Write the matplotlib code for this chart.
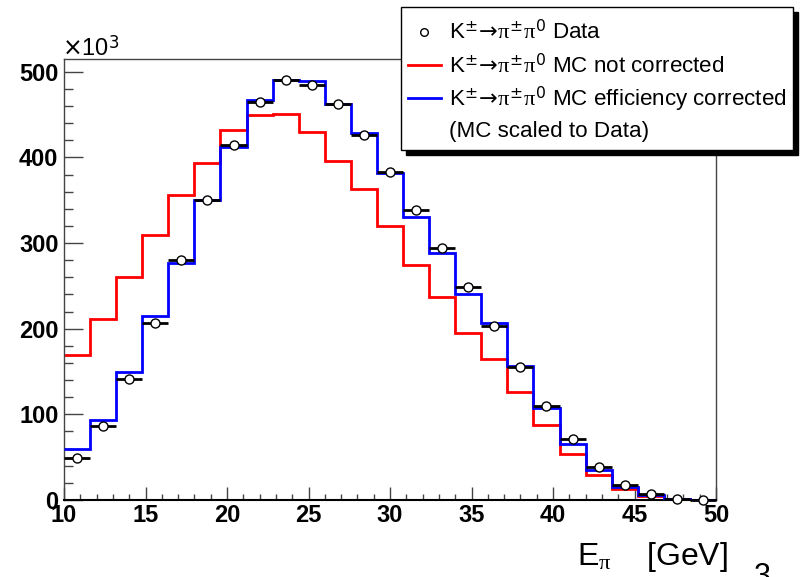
import numpy as np
import matplotlib
matplotlib.use("Agg")
import matplotlib.pyplot as plt
from matplotlib.patches import Rectangle
from matplotlib.lines import Line2D

plt.rcParams['font.family'] = ['Liberation Sans', 'DejaVu Sans']
plt.rcParams['mathtext.fontset'] = 'custom'
plt.rcParams['mathtext.rm'] = 'DejaVu Sans'
plt.rcParams['mathtext.it'] = 'Liberation Serif'
plt.rcParams['mathtext.bf'] = 'Liberation Sans:bold'

# ---- data (in units of 10^3) ----
bin_edges = [10.0, 11.6, 13.2, 14.8, 16.4, 18.0, 19.6, 21.2, 22.8, 24.4, 26.0,
             27.6, 29.2, 30.8, 32.4, 34.0, 35.6, 37.2, 38.8, 40.4, 42.0,
             43.6, 45.2, 46.8, 48.4, 50.0]
data_vals = [49, 87, 141, 207, 280, 350, 414, 465, 491, 485, 462, 426, 383,
             339, 294, 249, 203, 155, 110, 71, 39, 18, 6.6, 1.5, 0.5]
mc_not_corr = [169, 211, 260, 310, 356, 394, 432, 450, 451, 430, 396, 363, 320,
               274, 237, 195, 165, 126, 88, 54, 29, 12.5, 4.7, 1.2, 0.4]
mc_eff_corr = [60, 93, 150, 215, 277, 350, 412, 467, 491, 489, 463, 429, 382,
               330, 288, 240, 207, 156, 108, 65, 35, 15.6, 5.8, 1.5, 0.5]

legend_labels = [r'K$^{\pm}\!\rightarrow\!\pi^{\pm}\pi^{0}$ Data',
                 r'K$^{\pm}\!\rightarrow\!\pi^{\pm}\pi^{0}$ MC not corrected',
                 r'K$^{\pm}\!\rightarrow\!\pi^{\pm}\pi^{0}$ MC efficiency corrected',
                 '(MC scaled to Data)']
x_ticks = [10, 15, 20, 25, 30, 35, 40, 45, 50]
y_ticks = [0, 100, 200, 300, 400, 500]

W, H = 805, 577
fig = plt.figure(figsize=(W / 100, H / 100), dpi=100)
ax = fig.add_axes([64 / W, 1 - 500 / H, (716 - 64) / W, (500 - 59) / H])

edges = np.array(bin_edges)
centers = 0.5 * (edges[:-1] + edges[1:])
halfw = 0.5 * np.diff(edges)

ax.stairs(mc_not_corr, edges, baseline=None, color='#ff0000', lw=2.0, zorder=2)
ax.stairs(mc_eff_corr, edges, baseline=None, color='#0000ff', lw=2.0, zorder=3)
ax.errorbar(centers, data_vals, xerr=halfw, fmt='o', ms=6.5, mfc='white',
            mec='black', mew=1.0, ecolor='black', elinewidth=2.0, capsize=0,
            zorder=4, clip_on=False)

ax.set_xlim(10, 50)
ax.set_ylim(0, 515)
ax.set_xticks(x_ticks)
ax.set_yticks(y_ticks)
ax.set_xticks(np.arange(10, 51, 1), minor=True)
ax.set_yticks(np.arange(0, 515, 20), minor=True)
ax.tick_params(axis='both', which='both', direction='in', top=False, right=False,
               color='#444444', width=1.0)
ax.tick_params(axis='y', which='major', length=13.5, pad=4)
ax.tick_params(axis='y', which='minor', length=6.5)
ax.tick_params(axis='x', which='major', length=9.5, pad=3)
ax.tick_params(axis='x', which='minor', length=4.5)
for lab in ax.get_xticklabels() + ax.get_yticklabels():
    lab.set_fontweight('bold')
    lab.set_fontsize(17)
for s in ax.spines.values():
    s.set_color('#444444')
    s.set_linewidth(1.0)
ax.spines['bottom'].set_color('black')
ax.spines['bottom'].set_linewidth(1.5)

# exponent label
fig.text(62 / W, 1 - 57 / H, r'$\times$10$^{3}$', fontsize=17, ha='left', va='baseline')

# x label
fig.text(728 / W, 1 - 565 / H, r'E$_{\pi}$    [GeV]', fontsize=23, ha='right', va='baseline')
fig.text(754 / W, 1 - 562 / H, '3', fontsize=22, ha='left', va='top')

# legend (drawn manually, ROOT style)
lx0, lx1, ly0, ly1 = 401, 793, 7, 150
sh = 5
fig.patches.append(Rectangle(((lx0 + sh) / W, 1 - (ly1 + sh) / H), (lx1 - lx0) / W,
                             (ly1 - ly0) / H, transform=fig.transFigure,
                             facecolor='black', edgecolor='black', zorder=10))
fig.patches.append(Rectangle((lx0 / W, 1 - ly1 / H), (lx1 - lx0) / W, (ly1 - ly0) / H,
                             transform=fig.transFigure, facecolor='white',
                             edgecolor='black', lw=1.0, zorder=11))
rows = [31.7, 65, 98.3, 131.7]
fig.lines.append(Line2D([424 / W], [1 - rows[0] / H], marker='o', ms=5.5, mfc='white',
                        mec='black', mew=1.0, transform=fig.transFigure, zorder=12))
fig.lines.append(Line2D([408 / W, 441 / W], [1 - rows[1] / H] * 2, color='#ff0000', lw=2.0,
                        transform=fig.transFigure, zorder=12))
fig.lines.append(Line2D([408 / W, 441 / W], [1 - rows[2] / H] * 2, color='#0000ff', lw=2.0,
                        transform=fig.transFigure, zorder=12))
for r, lab in zip(rows, legend_labels):
    fig.text(449 / W, 1 - r / H, lab, fontsize=16.1, ha='left', va='center', zorder=13)

fig.savefig('out.png', dpi=100)
